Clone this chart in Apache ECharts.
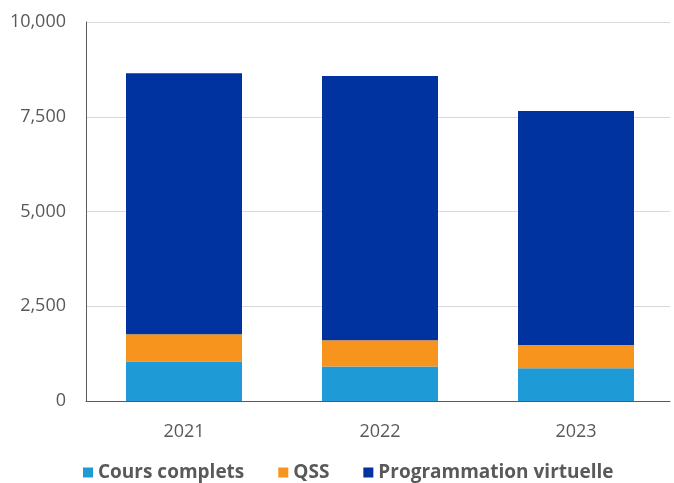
<!DOCTYPE html>
<html><head><meta charset="utf-8">
<script src="https://cdn.jsdelivr.net/npm/echarts@6/dist/echarts.min.js"></script>
<style>html,body{margin:0;padding:0;background:#fff}#c{width:674px;height:483px}</style>
</head><body><div id="c"></div>
<script>
const categories = ['2021', '2022', '2023'];
const coursComplets = [1041, 909, 864];
const qss = [721, 695, 615];
const programmationVirtuelle = [6888, 6974, 6175];
const yTicks = [0, 2500, 5000, 7500, 10000];

const font = 'Open Sans';
const chart = echarts.init(document.getElementById('c'));
chart.setOption({
  animation: false,
  textStyle: { fontFamily: font },
  grid: [
    { left: 86, right: 4, top: 22, bottom: 82, containLabel: false },
    { left: 86, width: 591, top: 22, bottom: 82, containLabel: false }
  ],
  legend: {
    left: 83, top: 463, padding: 0, itemWidth: 10, itemHeight: 10, itemGap: 34,
    icon: 'rect',
    textStyle: { fontFamily: font, fontSize: 19, fontWeight: 'bold', color: '#595959' },
    data: ['Cours complets', 'QSS', 'Programmation virtuelle']
  },
  xAxis: [
    { gridIndex: 0, type: 'category', data: categories, show: true,
      axisLine: { lineStyle: { color: '#595959', width: 1 } },
      axisTick: { show: false }, axisLabel: { show: false } },
    { gridIndex: 1, type: 'category', data: categories,
      axisLine: { show: false }, axisTick: { show: false },
      axisLabel: { fontFamily: font, fontSize: 18, color: '#595959', margin: 22 } }
  ],
  yAxis: [
    { gridIndex: 0, type: 'value', min: yTicks[0], max: yTicks[yTicks.length - 1], interval: 2500,
      axisLine: { show: true, lineStyle: { color: '#595959' } }, axisTick: { show: false },
      splitLine: { lineStyle: { color: '#d9d9d9' } },
      axisLabel: { fontFamily: font, fontSize: 18, color: '#595959', margin: 20,
        formatter: v => v.toLocaleString('en-US') } },
    { gridIndex: 1, type: 'value', min: yTicks[0], max: yTicks[yTicks.length - 1], interval: 2500,
      show: false, splitLine: { show: false } }
  ],
  series: [
    { name: 'Cours complets', type: 'bar', stack: 't', xAxisIndex: 1, yAxisIndex: 1,
      data: coursComplets, barWidth: 116, itemStyle: { color: '#1e9ad6' } },
    { name: 'QSS', type: 'bar', stack: 't', xAxisIndex: 1, yAxisIndex: 1,
      data: qss, barWidth: 116, itemStyle: { color: '#f7941e' } },
    { name: 'Programmation virtuelle', type: 'bar', stack: 't', xAxisIndex: 1, yAxisIndex: 1,
      data: programmationVirtuelle, barWidth: 116, itemStyle: { color: '#0033a0' } }
  ]
});
</script></body></html>
